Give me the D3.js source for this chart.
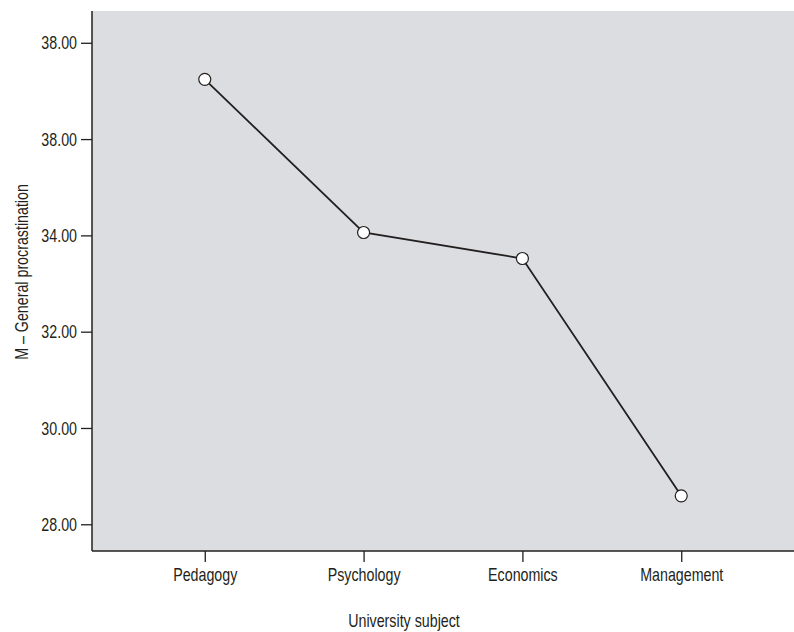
<!DOCTYPE html>
<html>
<head>
<meta charset="utf-8">
<script src="https://cdn.jsdelivr.net/npm/d3@7"></script>
<style>
  html, body { margin: 0; padding: 0; background: #fff; }
  svg { display: block; }
  text { font-family: "Liberation Sans", Arial, sans-serif; fill: #231f20; }
</style>
</head>
<body>
<svg id="chart" width="794" height="632"></svg>
<script>
// Mean general procrastination by university subject
const subjects = ["Pedagogy", "Psychology", "Economics", "Management"];
const means = [37.24, 34.06, 33.52, 28.59];
const yTickValues = [28, 30, 32, 34, 36, 38];
const yTickLabels = ["28.00", "30.00", "32.00", "34.00", "38.00", "38.00"];

const width = 794, height = 632;
const margin = { top: 11, right: 0, bottom: 81, left: 92 };
const innerW = width - margin.left - margin.right;
const innerH = height - margin.top - margin.bottom;

// narrow look: horizontally squeezed type
const fontSize = 19;
const squeeze = 0.75;

const svg = d3.select("#chart");

const x = d3.scalePoint()
  .domain(subjects)
  .range([margin.left, width - margin.right])
  .padding(0.71);

const y = d3.scaleLinear()
  .domain([27.445, 38.66])
  .range([margin.top + innerH, margin.top]);

// plot background
svg.append("rect")
  .attr("x", margin.left)
  .attr("y", margin.top)
  .attr("width", innerW)
  .attr("height", innerH)
  .attr("fill", "#dcdde0");

// y axis
const tickLen = 11, yPad = 4;
const yAxis = d3.axisLeft(y)
  .tickValues(yTickValues)
  .tickFormat((d, i) => yTickLabels[i])
  .tickSize(tickLen)
  .tickPadding(yPad);

const gy = svg.append("g")
  .attr("transform", `translate(${margin.left},0)`)
  .call(yAxis);
gy.select(".domain").attr("stroke", "#231f20").attr("stroke-width", 1.5)
  .attr("d", `M0,${margin.top}V${margin.top + innerH}`);
gy.selectAll(".tick line").attr("stroke", "#231f20").attr("stroke-width", 1.3);
gy.selectAll(".tick text")
  .attr("font-size", fontSize)
  .attr("font-family", null)
  .attr("fill", "#231f20")
  .attr("x", -(tickLen + yPad) / squeeze)
  .attr("transform", `scale(${squeeze},1)`);

// x axis
const xAxis = d3.axisBottom(x).tickSize(tickLen).tickPadding(6);
const gx = svg.append("g")
  .attr("transform", `translate(0,${margin.top + innerH})`)
  .call(xAxis);
gx.select(".domain").attr("stroke", "#231f20").attr("stroke-width", 1.5)
  .attr("d", `M${margin.left},0H${width}`);
gx.selectAll(".tick line").attr("stroke", "#231f20").attr("stroke-width", 1.3);
gx.selectAll(".tick text")
  .attr("font-size", fontSize)
  .attr("font-family", null)
  .attr("fill", "#231f20")
  .attr("transform", `scale(${squeeze},1)`);

// axis titles
svg.append("text")
  .attr("transform", `translate(404,627) scale(${squeeze},1)`)
  .attr("text-anchor", "middle")
  .attr("font-size", fontSize)
  .text("University subject");

svg.append("text")
  .attr("transform", `translate(28,272) rotate(-90) scale(${squeeze},1)`)
  .attr("text-anchor", "middle")
  .attr("font-size", fontSize)
  .text("M \u2013 General procrastination");

// line
const data = subjects.map((s, i) => ({ subject: s, mean: means[i] }));
const line = d3.line()
  .x(d => x(d.subject))
  .y(d => y(d.mean));

svg.append("path")
  .datum(data)
  .attr("d", line)
  .attr("fill", "none")
  .attr("stroke", "#231f20")
  .attr("stroke-width", 1.8);

// markers
svg.append("g")
  .selectAll("circle")
  .data(data)
  .join("circle")
  .attr("cx", d => x(d.subject))
  .attr("cy", d => y(d.mean))
  .attr("r", 6)
  .attr("fill", "#fff")
  .attr("stroke", "#231f20")
  .attr("stroke-width", 1.2);
</script>
</body>
</html>
